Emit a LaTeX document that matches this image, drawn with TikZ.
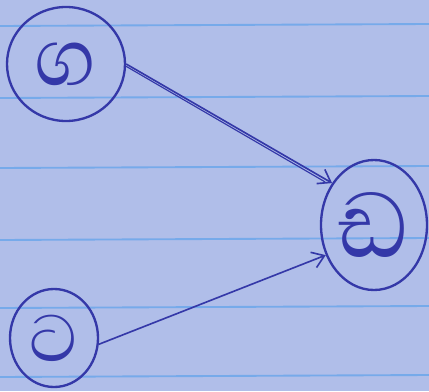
\documentclass[tikz,border=0pt]{standalone}
\usepackage{fontspec}
\newfontfamily\sinfont[Script=Sinhala]{Abhaya Libre}
\usetikzlibrary{shapes.geometric,arrows.meta}
\definecolor{papercolor}{RGB}{176,190,233}
\definecolor{rulecolor}{RGB}{118,170,234}
\definecolor{inkcolor}{RGB}{52,56,168}

\begin{document}
\begin{tikzpicture}[x=0.03cm,y=-0.03cm,
  vertex/.style={draw=inkcolor,ellipse,line width=2pt,inner sep=0pt,text=inkcolor},
  edge/.style={draw=inkcolor,line width=1.4pt,
    -{Straight Barb[length=10pt,width=14pt,line width=1.4pt]}}]
\clip (0,0) rectangle (429,391);
\fill[papercolor] (0,0) rectangle (429,391);
% ruled paper
\foreach \y in {26,98,168,240,308,377}
  \draw[rulecolor,line width=1.6pt] (0,\y) -- (429,\y-2);
% nodes
\node[vertex,minimum width=3.54cm,minimum height=3.42cm,
      font={\fontsize{88}{88}\sinfont}] (ga) at (66,64) {ග};
\node[vertex,minimum width=2.64cm,minimum height=2.94cm,
      font={\fontsize{72}{72}\sinfont}] (ta) at (54,338) {ට};
\node[vertex,minimum width=3.18cm,minimum height=3.9cm,
      font={\fontsize{100}{100}\sinfont}] (da) at (374,225) {ඩ};
% edges
\draw[edge] (ga.east) -- (da.135);
\draw[draw=inkcolor,line width=1pt] ([yshift=-2pt]ga.east) -- ([xshift=-6pt,yshift=1pt]da.135);
\draw[edge] (ta.-8) -- (da.212);
\end{tikzpicture}
\end{document}
